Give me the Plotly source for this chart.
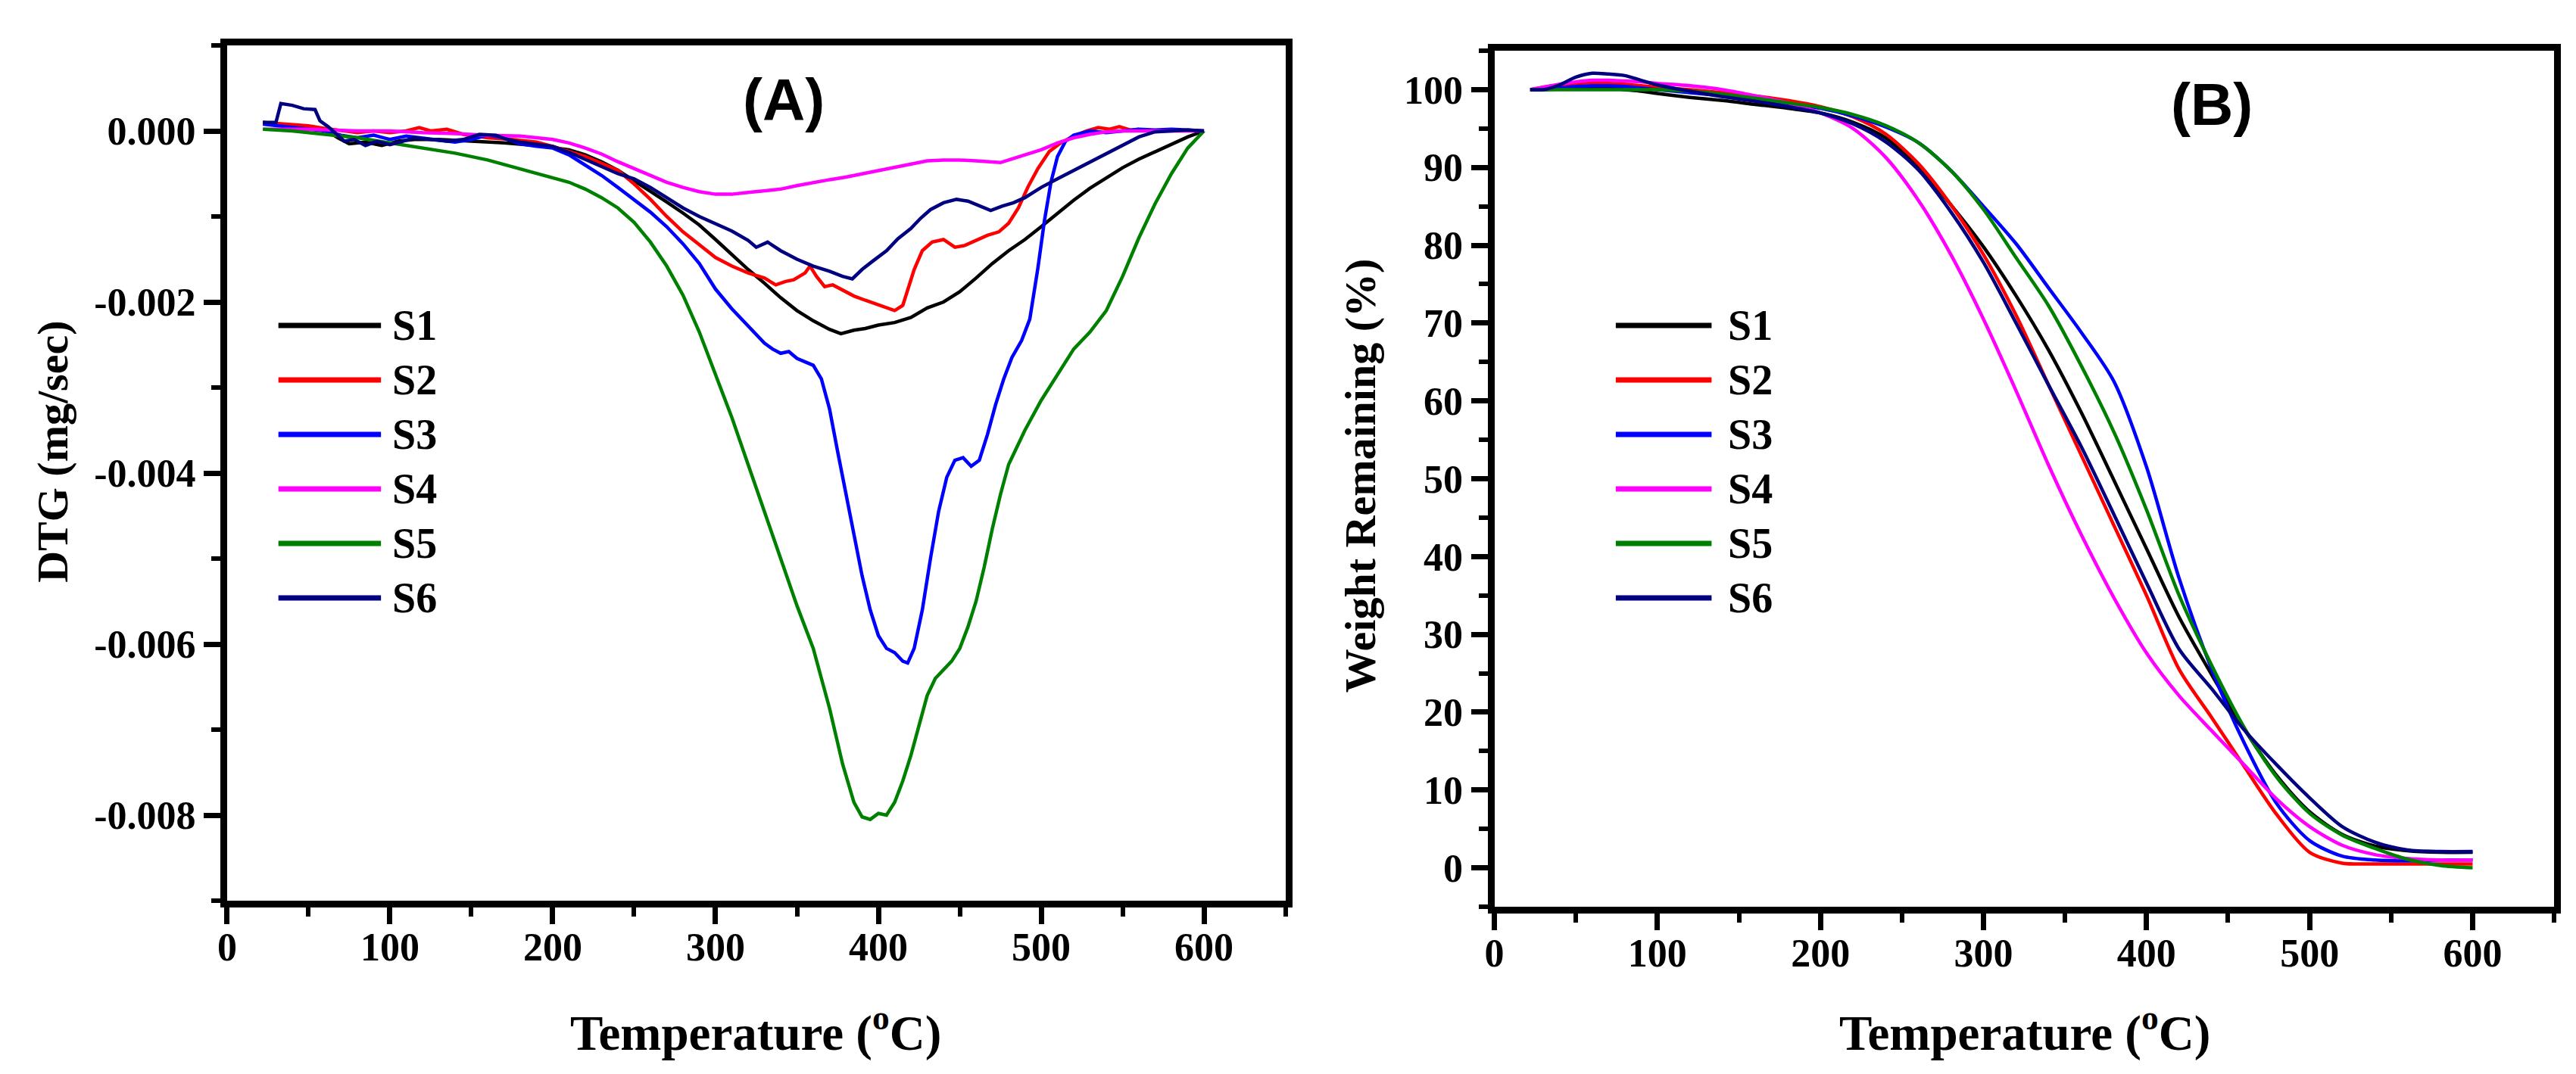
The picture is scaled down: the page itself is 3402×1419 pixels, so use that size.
"""
TGA / DTG curves for six samples: (A) derivative weight loss, (B) weight remaining.
"""

import plotly.graph_objects as go

NAMES = ["S1", "S2", "S3", "S4", "S5", "S6"]
COLORS = ["#000000", "#ff0000", "#0000ff", "#ff00ff", "#008000", "#000080"]

# ---- (A) DTG (mg/sec) -----------------------------------------------------
T_S1 = [22, 30, 45, 60, 68, 75, 85, 95, 105, 115, 130, 150, 170, 190, 200, 210, 220, 230, 240, 250,
        260, 270, 280, 290, 300, 310, 320, 330, 340, 350, 360, 370, 377, 385, 392, 400, 410, 420, 430,
        440, 450, 460, 470, 480, 490, 500, 510, 520, 530, 540, 550, 560, 570, 580, 590, 600]
DTG_S1 = [0.10, 0.08, 0.05, 0.02, -0.08, -0.15, -0.13, -0.17, -0.12, -0.10, -0.10, -0.12, -0.14, -0.17,
          -0.19, -0.22, -0.28, -0.36, -0.46, -0.58, -0.70, -0.83, -0.96, -1.10, -1.27, -1.45, -1.62,
          -1.78, -1.95, -2.10, -2.22, -2.32, -2.37, -2.33, -2.31, -2.27, -2.24, -2.18, -2.07, -2.00,
          -1.88, -1.72, -1.55, -1.40, -1.27, -1.12, -0.96, -0.81, -0.67, -0.55, -0.43, -0.33, -0.24,
          -0.15, -0.07, 0.0]

T_S2 = [22, 35, 50, 60, 70, 80, 90, 100, 110, 118, 125, 135, 145, 160, 175, 190, 200, 210, 220, 230,
        240, 250, 260, 270, 280, 290, 300, 310, 320, 330, 337, 343, 348, 355, 358, 362, 367, 372, 378,
        385, 392, 398, 404, 410, 415, 418, 422, 427, 433, 440, 447, 453, 460, 467, 474, 480, 486, 492,
        498, 505, 512, 520, 528, 535, 542, 548, 555, 560]
DTG_S2 = [0.10, 0.08, 0.06, 0.03, 0.0, -0.02, 0.0, -0.02, 0.0, 0.04, 0.0, 0.02, -0.04, -0.08, -0.10,
          -0.13, -0.18, -0.24, -0.30, -0.38, -0.46, -0.62, -0.80, -1.00, -1.18, -1.33, -1.48, -1.58,
          -1.66, -1.72, -1.80, -1.76, -1.74, -1.66, -1.58, -1.70, -1.82, -1.80, -1.86, -1.93, -1.98,
          -2.02, -2.05, -2.10, -2.04, -1.85, -1.62, -1.40, -1.30, -1.27, -1.36, -1.34, -1.28, -1.22,
          -1.18, -1.08, -0.90, -0.65, -0.44, -0.24, -0.14, -0.06, 0.0, 0.04, 0.02, 0.05, 0.01, 0.02]

T_S3 = [22, 35, 50, 60, 70, 80, 90, 100, 110, 125, 140, 150, 160, 170, 180, 190, 200, 210, 220, 230,
        240, 250, 260, 270, 280, 290, 300, 310, 320, 330, 335, 340, 345, 350, 355, 360, 365, 370, 375,
        380, 385, 390, 395, 400, 405, 410, 415, 418, 422, 427, 432, 437, 442, 447, 452, 457, 462, 467,
        472, 477, 482, 488, 493, 498, 502, 506, 510, 515, 520, 530, 540, 550, 560, 570, 580, 590, 600]
DTG_S3 = [0.08, 0.05, 0.02, 0.0, -0.05, -0.08, -0.05, -0.10, -0.06, -0.10, -0.13, -0.10, -0.05, -0.08,
          -0.15, -0.18, -0.20, -0.28, -0.40, -0.52, -0.66, -0.80, -0.95, -1.12, -1.32, -1.55, -1.85,
          -2.08, -2.28, -2.48, -2.55, -2.60, -2.58, -2.66, -2.70, -2.74, -2.90, -3.25, -3.75, -4.25,
          -4.75, -5.20, -5.60, -5.90, -6.05, -6.10, -6.20, -6.22, -6.05, -5.60, -5.00, -4.45, -4.05,
          -3.85, -3.82, -3.92, -3.85, -3.55, -3.20, -2.90, -2.65, -2.45, -2.20, -1.60, -1.05, -0.60,
          -0.30, -0.12, -0.05, 0.0, -0.02, 0.0, 0.02, 0.01, 0.02, 0.01, 0.0]

T_S4 = [22, 50, 80, 100, 120, 140, 160, 180, 200, 210, 220, 230, 240, 250, 260, 270, 280, 290, 300,
        310, 320, 330, 340, 350, 360, 370, 380, 390, 400, 410, 420, 430, 440, 450, 460, 470, 475, 480,
        490, 500, 510, 520, 530, 540, 550, 570, 600]
DTG_S4 = [0.02, 0.02, 0.0, 0.0, -0.02, -0.03, -0.05, -0.06, -0.10, -0.14, -0.20, -0.27, -0.36, -0.44,
          -0.52, -0.60, -0.66, -0.71, -0.74, -0.74, -0.72, -0.70, -0.68, -0.64, -0.60, -0.57, -0.54,
          -0.50, -0.46, -0.42, -0.38, -0.35, -0.34, -0.34, -0.35, -0.37, -0.37, -0.34, -0.28, -0.22,
          -0.14, -0.08, -0.04, -0.01, 0.0, 0.0, 0.0]

T_S5 = [22, 40, 60, 80, 100, 120, 140, 160, 180, 200, 210, 220, 230, 240, 250, 260, 270, 280, 290,
        300, 310, 320, 330, 340, 350, 360, 370, 378, 385, 390, 395, 400, 405, 410, 415, 420, 425, 430,
        435, 440, 445, 450, 455, 460, 465, 470, 475, 480, 490, 500, 510, 520, 530, 540, 550, 560, 570,
        580, 590, 600]
DTG_S5 = [0.02, 0.0, -0.04, -0.08, -0.14, -0.20, -0.26, -0.34, -0.44, -0.54, -0.60, -0.68, -0.78,
          -0.90, -1.07, -1.30, -1.58, -1.92, -2.35, -2.85, -3.35, -3.90, -4.45, -5.00, -5.55, -6.05,
          -6.75, -7.40, -7.85, -8.02, -8.05, -7.98, -8.00, -7.85, -7.60, -7.30, -6.95, -6.60, -6.40,
          -6.30, -6.20, -6.05, -5.80, -5.50, -5.10, -4.65, -4.25, -3.90, -3.50, -3.15, -2.85, -2.55,
          -2.35, -2.10, -1.70, -1.25, -0.85, -0.50, -0.20, 0.0]

T_S6 = [22, 30, 33, 40, 47, 54, 57, 62, 68, 72, 78, 85, 92, 100, 108, 115, 125, 135, 145, 155, 165,
        172, 180, 190, 200, 210, 220, 230, 240, 250, 260, 270, 280, 290, 300, 310, 320, 325, 332, 340,
        350, 360, 370, 378, 384, 390, 396, 405, 412, 420, 426, 432, 440, 448, 455, 462, 469, 476, 483,
        490, 500, 510, 520, 530, 540, 550, 560, 570, 580, 590, 600]
DTG_S6 = [0.10, 0.10, 0.32, 0.30, 0.26, 0.25, 0.12, 0.05, -0.05, -0.12, -0.10, -0.17, -0.12, -0.16,
          -0.12, -0.08, -0.10, -0.12, -0.10, -0.04, -0.05, -0.10, -0.13, -0.15, -0.18, -0.25, -0.33,
          -0.42, -0.50, -0.56, -0.66, -0.78, -0.90, -1.00, -1.08, -1.17, -1.28, -1.36, -1.30, -1.40,
          -1.50, -1.58, -1.64, -1.70, -1.73, -1.62, -1.53, -1.40, -1.26, -1.14, -1.02, -0.92, -0.84,
          -0.80, -0.82, -0.88, -0.93, -0.88, -0.84, -0.78, -0.66, -0.56, -0.46, -0.36, -0.26, -0.16,
          -0.07, -0.01, 0.0, 0.01, 0.0]

# values above are in units of 1e-3 mg/sec
DTG_T = [T_S1, T_S2, T_S3, T_S4, T_S5, T_S6]
DTG_V = [DTG_S1, DTG_S2, DTG_S3, DTG_S4, DTG_S5, DTG_S6]

# ---- (B) weight remaining (%) ---------------------------------------------
T_W = [22, 30, 40, 50, 60, 70, 80, 90, 100, 120, 140, 160, 180, 200, 220, 240, 260, 280, 300, 320,
       340, 360, 380, 400, 420, 440, 460, 480, 500, 520, 540, 560, 580, 600]
W_S1 = [100, 100, 100.1, 100.2, 100.3, 100.2, 100, 99.8, 99.5, 99.0, 98.6, 98.1, 97.6, 97.0, 95.8,
        93.8, 90.0, 85.2, 79.8, 73.5, 66.5, 58.5, 49.8, 41.0, 32.2, 24.8, 17.8, 11.8, 7.2, 4.3, 2.8,
        2.2, 2.0, 2.0]
W_S2 = [100, 100.3, 100.6, 100.8, 100.9, 100.8, 100.7, 100.5, 100.3, 100.0, 99.6, 99.2, 98.6, 97.8,
        96.5, 94.3, 90.5, 85.2, 78.8, 71.0, 62.0, 53.0, 44.0, 35.0, 25.5, 19.3, 13.0, 6.8, 2.0, 0.6,
        0.5, 0.5, 0.5, 0.5]
W_S3 = [100, 100, 100.2, 100.4, 100.5, 100.5, 100.4, 100.2, 100, 99.6, 99.2, 98.7, 98.2, 97.6, 96.6,
        95.2, 93.2, 89.6, 85.0, 80.2, 74.5, 68.8, 62.5, 51.5, 37.2, 25.5, 16.0, 8.2, 3.5, 1.5, 1.0,
        0.9, 1.0, 1.0]
W_S4 = [100, 100.3, 100.7, 101.0, 101.2, 101.2, 101.1, 101.0, 100.8, 100.5, 100.0, 99.2, 98.3, 97.0,
        95.0, 91.3, 85.8, 78.8, 70.5, 61.3, 51.7, 42.8, 34.7, 27.6, 22.1, 17.6, 13.2, 8.8, 5.3, 2.9,
        1.7, 1.2, 1.0, 1.0]
W_S5 = [100, 100, 100, 100, 100, 100, 100, 100, 100, 99.8, 99.4, 98.9, 98.3, 97.7, 96.8, 95.4, 93.2,
        89.6, 84.6, 78.4, 72.2, 64.5, 56.0, 46.0, 35.0, 26.0, 18.0, 11.6, 7.0, 4.2, 2.5, 1.1, 0.3, 0.0]
W_S6 = [100, 100, 100.6, 101.6, 102.1, 102.0, 101.8, 101.2, 100.6, 99.8, 99.1, 98.5, 97.8, 97.0,
        95.6, 93.3, 89.7, 84.3, 77.8, 70.0, 62.0, 54.1, 45.4, 36.6, 28.1, 23.0, 17.7, 13.2, 9.0, 5.3,
        3.3, 2.3, 2.1, 2.1]
WEIGHTS = [W_S1, W_S2, W_S3, W_S4, W_S5, W_S6]

# ---- ticks ----------------------------------------------------------------
X_TICKS = [0, 100, 200, 300, 400, 500, 600]
X_TICKTEXT = ["0", "100", "200", "300", "400", "500", "600"]
YA_TICKS = [0.0, -0.002, -0.004, -0.006, -0.008]
YA_TICKTEXT = ["0.000", "-0.002", "-0.004", "-0.006", "-0.008"]
YB_TICKS = [0, 10, 20, 30, 40, 50, 60, 70, 80, 90, 100]
YB_TICKTEXT = [str(v) for v in YB_TICKS]

SERIF = "Liberation Serif"
W, H = 3402, 1419

fig = go.Figure()

for name, color, t, v in zip(NAMES, COLORS, DTG_T, DTG_V):
    fig.add_trace(go.Scatter(
        x=t, y=[val * 1e-3 for val in v], name=name, mode="lines",
        line=dict(color=color, width=4.5), xaxis="x", yaxis="y", showlegend=False,
    ))

for name, color, w in zip(NAMES, COLORS, WEIGHTS):
    fig.add_trace(go.Scatter(
        x=T_W, y=w, name=name, mode="lines",
        line=dict(color=color, width=4.5, shape="spline", smoothing=0.8),
        xaxis="x2", yaxis="y2", showlegend=False,
    ))


def axis_style(minor_dtick, **kw):
    d = dict(
        showline=True, linecolor="black", linewidth=9, mirror=True,
        ticks="outside", ticklen=22, tickwidth=7, tickcolor="black",
        showgrid=False, zeroline=False, tickmode="array",
        tickfont=dict(family=SERIF, size=52, color="black", weight="bold"),
        minor=dict(ticks="outside", ticklen=12, tickwidth=6, tickcolor="black",
                   tick0=0, dtick=minor_dtick, showgrid=False),
    )
    d.update(kw)
    return d


fig.update_layout(
    width=W, height=H,
    margin=dict(l=0, r=0, t=0, b=0),
    paper_bgcolor="white", plot_bgcolor="white",
    showlegend=False,
    xaxis=axis_style(50, domain=[280 / W, 1683 / W], range=[0, 650], ticklabelstandoff=-14,
                     tickvals=X_TICKS, ticktext=X_TICKTEXT, anchor="y"),
    yaxis=axis_style(0.001, domain=[1 - 1182 / H, 1 - 52 / H], range=[-0.009, 0.001],
                     tickvals=YA_TICKS, ticktext=YA_TICKTEXT, anchor="x"),
    xaxis2=axis_style(50, domain=[1960 / W, 3365 / W], range=[0, 650], ticklabelstandoff=-14,
                      tickvals=X_TICKS, ticktext=X_TICKTEXT, anchor="y2"),
    yaxis2=axis_style(5, domain=[1 - 1190 / H, 1 - 59 / H], range=[-5, 105],
                      tickvals=YB_TICKS, ticktext=YB_TICKTEXT, anchor="x2"),
)

xtitle_font = dict(family=SERIF, size=65, color="black", weight="bold")
ytitle_font = dict(family=SERIF, size=58, color="black", weight="bold")

# axis titles
for xc in (981, 2663):
    fig.add_annotation(text="Temperature (<sup>o</sup>C)", x=xc / W, y=1 - 1352 / H,
                       xref="paper", yref="paper", xanchor="center", yanchor="middle",
                       showarrow=False, font=xtitle_font)
fig.add_annotation(text="DTG (mg/sec)", x=48 / W, y=1 - 589 / H, textangle=-90,
                   xref="paper", yref="paper", xanchor="center", yanchor="middle",
                   showarrow=False, font=ytitle_font)
fig.add_annotation(text="Weight Remaining (%)", x=1782 / W, y=1 - 620 / H, textangle=-90,
                   xref="paper", yref="paper", xanchor="center", yanchor="middle",
                   showarrow=False, font=ytitle_font)

# panel labels
panel_font = dict(family="Liberation Sans", size=78, color="black", weight="bold")
fig.add_annotation(text="(A)", x=342, y=0.00036, xref="x", yref="y",
                   xanchor="center", yanchor="middle", showarrow=False, font=panel_font)
fig.add_annotation(text="(B)", x=440, y=98.1, xref="x2", yref="y2",
                   xanchor="center", yanchor="middle", showarrow=False, font=panel_font)

# hand-drawn legends (long line samples as in the original)
legend_font = dict(family=SERIF, size=56, color="black", weight="bold")
for x0, x1, xt in [(348, 484, 497), (2121, 2248, 2268)]:
    for i, (name, color) in enumerate(zip(NAMES, COLORS)):
        yy = 1 - (422 + 72 * i) / H
        fig.add_shape(type="line", xref="paper", yref="paper",
                      x0=x0 / W, x1=x1 / W, y0=yy, y1=yy,
                      line=dict(color=color, width=7))
        fig.add_annotation(text=name, x=xt / W, y=yy, xref="paper", yref="paper",
                           xanchor="left", yanchor="middle", showarrow=False,
                           font=legend_font)

fig.write_html("out.html")
